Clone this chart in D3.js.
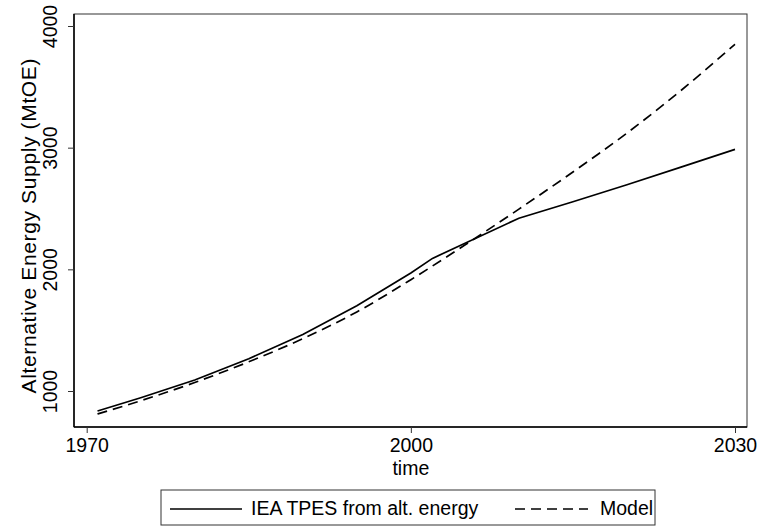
<!DOCTYPE html>
<html>
<head>
<meta charset="utf-8">
<script src="https://cdn.jsdelivr.net/npm/d3@7"></script>
<style>
  body { margin: 0; background: #fff; }
  text { font-family: "Liberation Sans", Arial, sans-serif; fill: #000; }
</style>
</head>
<body>
<script>
// IEA historical + projection (MtOE)
var ieaYears  = [1971, 1975, 1980, 1985, 1990, 1995, 2000, 2002, 2010, 2015, 2020, 2025, 2030];
var ieaValues = [836, 945, 1090, 1265, 1465, 1700, 1970, 2090, 2420, 2555, 2695, 2840, 2986];

// model curve
var modelYears  = [1971, 1975, 1980, 1985, 1990, 1995, 2000, 2005, 2010, 2015, 2020, 2025, 2030];
var modelValues = [811, 920, 1070, 1240, 1430, 1650, 1915, 2200, 2495, 2800, 3120, 3470, 3850];

var xTicks = [1970, 2000, 2030];
var yTicks = [1000, 2000, 3000, 4000];

var width = 779, height = 527;
var frame = {left: 74, right: 747, top: 14, bottom: 427};
var fs = "19.5px";

var svg = d3.select("body").append("svg")
    .attr("width", width)
    .attr("height", height);

var x = d3.scaleLinear().domain([1970, 2030]).range([86.7, 735]);
var y = d3.scaleLinear().domain([1000, 4000]).range([391, 26]);

// plot frame
svg.append("rect")
    .attr("x", frame.left).attr("y", frame.top)
    .attr("width", frame.right - frame.left)
    .attr("height", frame.bottom - frame.top)
    .attr("fill", "none")
    .attr("stroke", "#333")
    .attr("stroke-width", 1);

// x axis
var xAxis = svg.append("g")
    .attr("transform", "translate(0," + frame.bottom + ")")
    .call(d3.axisBottom(x).tickValues(xTicks).tickFormat(d3.format("d")).tickSize(6).tickPadding(5));
xAxis.select(".domain").attr("d", "M" + frame.left + ",0H" + frame.right).attr("stroke", "#000").attr("stroke-width", 1.5);
xAxis.selectAll("text").style("font-size", fs).attr("font-family", null);
xAxis.selectAll("line").attr("stroke", "#333");

// y axis
var yAxis = svg.append("g")
    .attr("transform", "translate(" + frame.left + ",0)")
    .call(d3.axisLeft(y).tickValues(yTicks).tickFormat(d3.format("d")).tickSize(6));
yAxis.select(".domain").attr("d", "M0," + frame.top + "V" + frame.bottom).attr("stroke", "#000").attr("stroke-width", 1.5);
yAxis.selectAll("line").attr("stroke", "#333");
yAxis.selectAll("text")
    .attr("x", null).attr("dy", null)
    .attr("text-anchor", "middle")
    .attr("transform", "translate(-17,0) rotate(-90)")
    .style("font-size", fs)
    .attr("font-family", null);

// axis titles
svg.append("text")
    .attr("x", x(2000)).attr("y", 475)
    .attr("text-anchor", "middle")
    .style("font-size", fs)
    .text("time");

svg.append("text")
    .attr("transform", "translate(36,226) rotate(-90)")
    .attr("text-anchor", "middle")
    .attr("textLength", 335)
    .attr("lengthAdjust", "spacing")
    .style("font-size", "21px")
    .text("Alternative Energy Supply (MtOE)");

// lines
var line = d3.line()
    .x(function(d) { return x(d[0]); })
    .y(function(d) { return y(d[1]); });

svg.append("path")
    .datum(d3.zip(modelYears, modelValues))
    .attr("d", line.curve(d3.curveMonotoneX))
    .attr("fill", "none")
    .attr("stroke", "#000")
    .attr("stroke-width", 1.7)
    .attr("stroke-dasharray", "10,6");

svg.append("path")
    .datum(d3.zip(ieaYears, ieaValues))
    .attr("d", line.curve(d3.curveLinear))
    .attr("fill", "none")
    .attr("stroke", "#000")
    .attr("stroke-width", 1.7);

// legend
var legend = svg.append("g");
legend.append("rect")
    .attr("x", 161).attr("y", 490)
    .attr("width", 494).attr("height", 35)
    .attr("fill", "#fff")
    .attr("stroke", "#333");

legend.append("line")
    .attr("x1", 170).attr("x2", 242).attr("y1", 509).attr("y2", 509)
    .attr("stroke", "#000").attr("stroke-width", 1.7);
legend.append("text")
    .attr("x", 251).attr("y", 515)
    .style("font-size", fs)
    .text("IEA TPES from alt. energy");

legend.append("line")
    .attr("x1", 515).attr("x2", 588).attr("y1", 509).attr("y2", 509)
    .attr("stroke", "#000").attr("stroke-width", 1.7)
    .attr("stroke-dasharray", "10,6");
legend.append("text")
    .attr("x", 600).attr("y", 515)
    .style("font-size", fs)
    .text("Model");
</script>
</body>
</html>
